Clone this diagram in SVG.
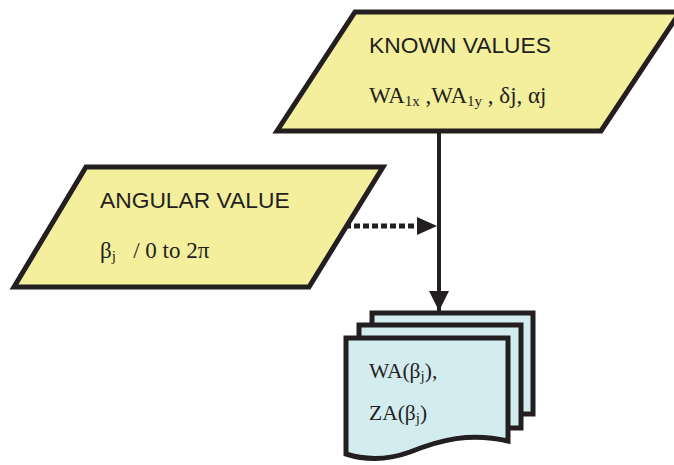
<svg xmlns="http://www.w3.org/2000/svg" width="674" height="465" viewBox="0 0 674 465">
  <defs>
    <style>
      .io { fill: #f3ef9d; stroke: #231f20; stroke-width: 5; stroke-linejoin: miter; }
      .doc { fill: #d3ecf0; stroke: #231f20; stroke-width: 5; stroke-linejoin: miter; }
      .sans { font-family: "Liberation Sans", Arial, sans-serif; font-size: 22.8px; fill: #231f20; }
      .serif { font-family: "Liberation Serif", "Times New Roman", serif; font-size: 23px; fill: #231f20; }
      .small { font-size: 21.5px; }
      .sub { font-size: 15px; }
      .flow { stroke: #231f20; stroke-width: 4; fill: none; }
      .dots { stroke: #231f20; stroke-width: 5; fill: none; stroke-dasharray: 6 3; }
    </style>
    <marker id="arrow" viewBox="0 0 10 10" refX="10" refY="5" markerWidth="5" markerHeight="5" markerUnits="strokeWidth" orient="auto">
      <path d="M0,0 L10,5 L0,10 Z" fill="#231f20"/>
    </marker>
  </defs>

  <!-- connectors -->
  <g id="connectors">
    <line class="flow" x1="439" y1="131" x2="439" y2="311" marker-end="url(#arrow)"/>
    <line class="dots" x1="345" y1="226" x2="417" y2="226"/>
    <path d="M417,217 L437,226 L417,235 Z" fill="#231f20"/>
  </g>

  <!-- known values input -->
  <g id="known-values">
    <polygon class="io" points="355,12 680,12 601,131 277,131"/>
    <text class="sans" x="369" y="53">KNOWN VALUES</text>
    <text class="serif" x="369" y="103">WA<tspan class="sub" dy="3">1x</tspan><tspan dy="-3"> ,WA</tspan><tspan class="sub" dy="3">1y</tspan><tspan dy="-3"> , δj, αj</tspan></text>
  </g>

  <!-- angular value input -->
  <g id="angular-value">
    <polygon class="io" points="86,167 383,167 309,287 14,287"/>
    <text class="sans" x="100" y="208">ANGULAR VALUE</text>
    <text class="serif" x="100" y="258">β<tspan class="sub" dy="3">j</tspan><tspan dy="-3" xml:space="preserve">   / 0 to 2π</tspan></text>
  </g>

  <!-- output documents -->
  <g id="documents">
    <path class="doc" d="M372,313 H533 V414 H372 Z"/>
    <path class="doc" d="M359,325 H521 V428 H359 Z"/>
    <path class="doc" d="M346,338 H508 V441 C470,432 440,440 410,452 C385,461 365,460 346,454 Z"/>
    <text class="serif small" x="369" y="378">WA(β<tspan class="sub" dy="3">j</tspan><tspan dy="-3">),</tspan></text>
    <text class="serif small" x="369" y="420">ZA(β<tspan class="sub" dy="3">j</tspan><tspan dy="-3">)</tspan></text>
  </g>
</svg>
